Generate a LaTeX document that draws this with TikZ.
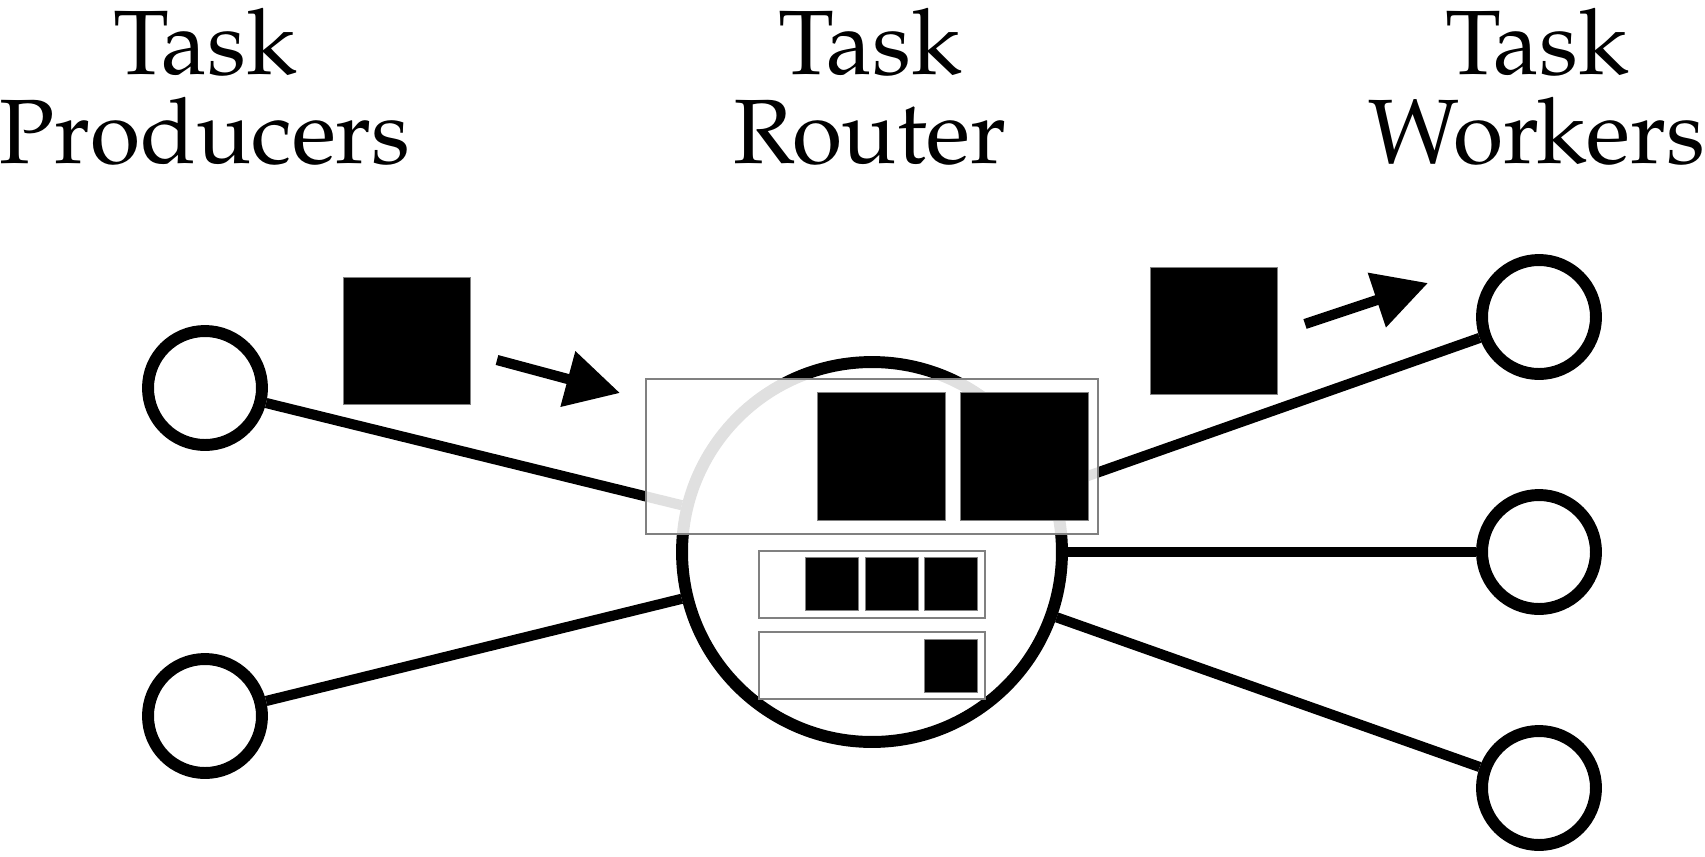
\documentclass[tikz,border=0pt]{standalone}
\usepackage{fontspec}
\setmainfont{TeX Gyre Pagella}
\usetikzlibrary{arrows.meta, positioning}

\begin{document}
\begin{tikzpicture}[
    x=0.02cm, y=-0.02cm,
    line width=5.8pt,
    title/.style={align=center, inner sep=0pt, anchor=north, font=\fontsize{52}{50.5}\selectfont},
    peer/.style={circle, draw, line width=6.8pt, fill=white, minimum size=2.28cm, inner sep=0pt},
    hub/.style={circle, draw, line width=6.8pt, fill=white, minimum size=7.6cm, inner sep=0pt},
    task/.style={rectangle, fill=black, draw=gray, line width=0.5pt, minimum size=2.54cm, inner sep=0pt},
    minitask/.style={task, minimum size=1.06cm},
    queue/.style={rectangle, draw=gray, fill=white, line width=0.7pt, inner sep=0pt,
                  minimum width=4.52cm, minimum height=1.34cm},
    arrow/.style={-{Triangle[length=1.08cm, width=1.1cm]}, line width=5.8pt}
]
    \useasboundingbox (0,0) rectangle (1705,856);

    \node[title] (prodlabel) at (205,3) {Task\\Producers};
    \node[title] (routlabel) at (870,3) {Task\\Router};
    \node[title] (worklabel) at (1537,3) {Task\\Workers};

    \node[hub] (router) at (872,552) {};
    \node[peer] (prod1) at (205,388) {};
    \node[peer] (prod2) at (205,716) {};
    \node[peer] (work1) at (1539,317) {};
    \node[peer] (work2) at (1539,552) {};
    \node[peer] (work3) at (1539,788) {};

    \draw (prod1) -- (router); \draw (prod2) -- (router);
    \draw (router) -- (work1); \draw (router) -- (work2); \draw (router) -- (work3);

    % tasks on their way in and out
    \node[task] (incoming) at (407,341) {};
    \node[task] (outgoing) at (1214,330.5) {};
    \coordinate (intail) at (497,360); \coordinate (intip) at (620,393);
    \coordinate (outtail) at (1305,324); \coordinate (outtip) at (1428,283);
    \draw[arrow] (intail) -- (intip);
    \draw[arrow] (outtail) -- (outtip);

    % buffer of the router, drawn over the circle
    \node[rectangle, draw=gray, line width=0.7pt, fill=white, fill opacity=0.88, inner sep=0pt,
          minimum width=9.04cm, minimum height=3.1cm] (buffer) at (872,456.5) {};
    \node[task, minimum size=2.56cm] (held1) at (881,456.5) {};
    \node[task, minimum size=2.56cm] (held2) at (1024,456.5) {};

    \node[queue] (queue1) at (872,584.5) {};
    \node[queue] (queue2) at (872,665.5) {};
    \node[minitask] (qa1) at (832,584) {};
    \node[minitask] (qa2) at (891.5,584) {};
    \node[minitask] (qa3) at (951,584) {};
    \node[minitask] (qb1) at (951,665.5) {};
\end{tikzpicture}
\end{document}
